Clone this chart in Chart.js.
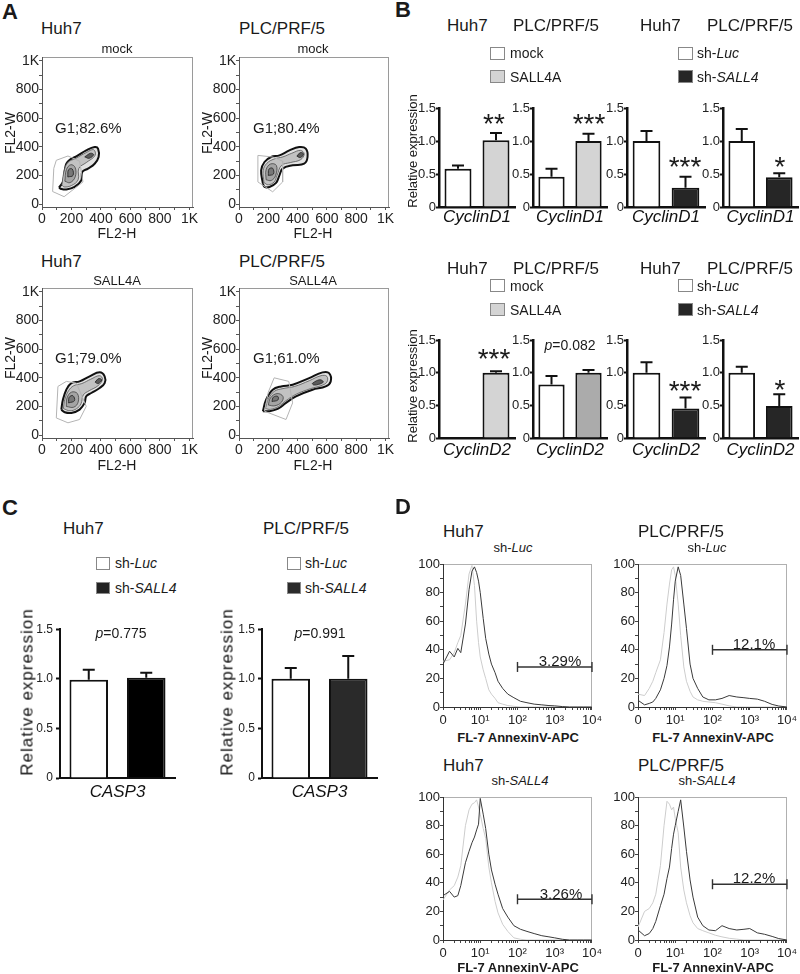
<!DOCTYPE html>
<html><head><meta charset="utf-8">
<script src="https://cdn.jsdelivr.net/npm/chart.js@4/dist/chart.umd.min.js"></script>
<style>
body{margin:0;background:#fff;}
#fig{position:relative;width:800px;height:974px;overflow:hidden;font-family:"Liberation Sans",Arial,Helvetica,sans-serif;color:#1a1a1a;background:#fff;}
.t{position:absolute;white-space:nowrap;line-height:1;}
.sw{position:absolute;box-sizing:border-box;border:1px solid #888;}
canvas{position:absolute;}
</style></head><body><div id="fig"></div>
<script>
// ================= DATA =================
// Panel A: FL2-H (x) vs FL2-W (y) contour outlines, vertices
const a1Gate=[[97,306],[176,336],[255,300],[278,155],[150,52],[72,88],[80,250]];
const a1Outer=[[115,116],[142,155],[154,236],[165,282],[188,310],[233,333],[300,375],[357,398],[380,387],[384,329],[357,282],[312,248],[273,225],[267,167],[221,120],[165,102],[131,106]];
const a1Mid=[[135,135],[150,230],[175,290],[230,320],[300,360],[350,380],[360,340],[300,290],[250,250],[245,170],[200,130],[150,120]];
const a1Inner=[[155,160],[165,240],[195,275],[225,255],[225,190],[190,150]];
const a1Core=[[175,190],[180,240],[205,245],[210,200]];
const a1Top=[[290,330],[330,355],[350,345],[320,320]];

const a2Gate=[[129,340],[230,329],[298,300],[298,155],[230,86],[129,155]];
const a2Outer=[[163,143],[151,236],[174,294],[219,329],[276,340],[344,375],[411,398],[456,387],[468,329],[445,282],[366,271],[298,248],[276,201],[253,148],[208,120],[174,120]];
const a2Mid=[[170,150],[165,235],[190,285],[240,315],[300,330],[360,355],[420,375],[445,350],[420,310],[350,290],[290,270],[260,200],[240,155],[200,135]];
const a2Inner=[[185,170],[185,240],[215,280],[255,270],[250,200],[220,165]];
const a2Core=[[200,200],[205,245],[230,250],[235,210]];
const a2Top=[[395,335],[420,360],[440,350],[420,325]];

const a3Gate=[[108,340],[165,375],[233,363],[300,201],[255,109],[176,86],[97,120]];
const a3Outer=[[131,178],[142,248],[165,317],[199,363],[255,375],[323,410],[391,438],[425,410],[425,363],[391,329],[334,294],[300,271],[289,225],[255,178],[199,155],[154,160]];
const a3Mid=[[145,185],[155,250],[180,310],[215,345],[270,360],[330,390],[390,415],[410,390],[380,345],[320,310],[280,280],[265,220],[235,185],[190,170]];
const a3Inner=[[165,200],[170,260],[200,300],[240,290],[245,230],[215,195]];
const a3Core=[[180,225],[185,265],[210,275],[220,240]];
const a3Top=[[360,370],[385,395],[405,385],[380,360]];

const a4Gate=[[240,400],[340,375],[366,225],[321,109],[174,167],[200,300]];
const a4Outer=[[163,167],[185,248],[230,317],[287,340],[366,352],[479,398],[570,438],[615,433],[626,375],[592,340],[502,317],[389,271],[321,225],[264,183],[208,167]];
const a4Mid=[[180,185],[200,250],[240,305],[300,325],[380,340],[480,380],[560,415],[600,410],[600,370],[560,345],[490,325],[390,285],[320,240],[270,200],[215,180]];
const a4Inner=[[200,210],[215,260],[260,290],[300,270],[290,230],[245,205]];
const a4Core=[[225,235],[235,265],[265,270],[265,245]];
const a4Top=[[500,360],[530,380],[560,385],[575,370],[545,355],[510,350]];

const aTickVals=[0,100,200,300,400,500,600,700,800,900,1000];
const aG1Labels=['G1;82.6%','G1;80.4%','G1;79.0%','G1;61.0%'];

// Panel B: relative expression (bar value, error-bar top)
const bGenes=['CyclinD1','CyclinD2'];
const bOeSeries=['mock','SALL4A'];
const bKdSeries=['sh-Luc','sh-SALL4'];
const bHuh7OeD1=[0.58,1.01], bHuh7OeD1Err=[0.63,1.12];
const bPlcOeD1=[0.46,1.00],  bPlcOeD1Err=[0.58,1.11];
const bHuh7KdD1=[1.00,0.29], bHuh7KdD1Err=[1.15,0.46];
const bPlcKdD1=[1.00,0.45],  bPlcKdD1Err=[1.18,0.51];
const bHuh7OeD2=[0,1.00],    bHuh7OeD2Err=[null,1.02];
const bPlcOeD2=[0.82,1.00],  bPlcOeD2Err=[0.95,1.04];
const bHuh7KdD2=[1.00,0.45], bHuh7KdD2Err=[1.16,0.62];
const bPlcKdD2=[1.00,0.49],  bPlcKdD2Err=[1.09,0.67];
const barYTicks=[0,0.5,1.0,1.5];

// Panel C
const cGene='CASP3';
const cHuh7=[0.99,1.01], cHuh7Err=[1.09,1.06];
const cPlc=[1.00,1.00],  cPlcErr=[1.11,1.23];
const cPvals=['0.775','0.991'];

// Panel D: histograms over FL-7 AnnexinV-APC
const dBins=[1,1.5,2,2.5,3,4,5,6,7,8,9,10,12,14,17,20,25,30,40,55,80,120,180,280,450,700,1000,1600,2500,4000,6000,10000];
const dHuh7LucSample=[30,39,35,41,38,58,82,95,98,94,88,80,62,48,37,30,24,18,13,9,6.5,4,3,2,1.5,1,0.8,0.3,0,0,0,0];
const dHuh7LucControl=[32,33,38,45,50,72,93,99,85,60,45,35,26,20,12,9,6,3,2,1,0.5,0,0,0,0,0,0,0,0,0,0,0];
const dPlcLucSample=[4.7,1.5,2.5,3.5,6,12,20,29,42,58,75,88,98,92,72,55,30,20,13,7,5,5,6,8,7,6.5,6,5.5,4,1.8,0.7,0];
const dPlcLucControl=[9,8,13,18,24,33,52,72,86,96,98,92,72,50,28,18,11,7,5,4,3.5,3,2,0.8,0,0,0,0,0,0,0,0];
const dHuh7SallSample=[31,34,30,31,38,54,62,68,72,77,81,99,88,78,60,49,39,32,22,16,10,7.5,6,4.5,3,2.2,1.5,0.5,0,0,0,0];
const dHuh7SallControl=[28,35,38,44,52,80,91,95,96,98,93,88,78,71,51,40,27,19,11,6,1.5,0.5,0,0,0,0,0,0,0,0,0,0];
const dPlcSallSample=[7,3,4.5,8,13,24,32,43,51,64,74,80,90,98,79,62,42,30,16,10,7,6.5,10,8,7,7.5,8,5,4,2.5,1,0];
const dPlcSallControl=[9,20,22,26,32,52,80,97,95,91,93,85,75,51,35,26,17,12,8,6.5,5,3.3,2.2,1.2,0.6,0,0,0,0,0,0,0];
const dGateRange=[100,10000];
const dGateLevels=[28,40,28.5,39];
const dGatePct=['3.29%','12.1%','3.26%','12.2%'];
const dDecades=[1,10,100,1000,10000];
const dYTicks=[0,10,20,30,40,50,60,70,80,90,100];

// ================= HELPERS =================
const FONT='"Liberation Sans", Arial, Helvetica, sans-serif';
Chart.defaults.font.family=FONT;
Chart.defaults.color='#1a1a1a';
Chart.defaults.animation=false;
Chart.defaults.plugins.legend.display=false;
Chart.defaults.plugins.tooltip.enabled=false;
const fig=document.getElementById('fig');

function T(html,x,y,size,o){
  o=o||{};
  const d=document.createElement('div');d.className='t';d.innerHTML=html;
  d.style.fontSize=size+'px';d.style.left=x+'px';d.style.top=y+'px';
  if(o.b)d.style.fontWeight='bold';
  if(o.ls)d.style.letterSpacing=o.ls+'px';
  if(o.color)d.style.color=o.color;
  let tr=o.a==='l'?'translate(0,-50%)':(o.a==='r'?'translate(-100%,-50%)':'translate(-50%,-50%)');
  if(o.rot)tr+=' rotate(-90deg)';
  d.style.transform=tr;fig.appendChild(d);return d;
}
function SW(x,y,w,h,bg){const d=document.createElement('div');d.className='sw';
  d.style.left=x+'px';d.style.top=y+'px';d.style.width=w+'px';d.style.height=h+'px';d.style.background=bg;fig.appendChild(d);}

function mk(area,yw,xh,padR,padT,cfg){
  const c=document.createElement('canvas');
  const W=Math.round(area.r-area.l+yw+padR),H=Math.round(area.b-area.t+padT+xh);
  c.width=W;c.height=H;c.style.left=(area.l-yw)+'px';c.style.top=(area.t-padT)+'px';
  c.style.width=W+'px';c.style.height=H+'px';fig.appendChild(c);
  const o=cfg.options;o.responsive=false;o.maintainAspectRatio=false;o.animation=false;
  o.layout={padding:{left:0,right:padR,top:padT,bottom:0}};
  o.scales.x.afterFit=s=>{s.height=xh;};
  o.scales.y.afterFit=s=>{s.width=yw;};
  return new Chart(c,cfg);
}

const errPlugin={id:'errbars',afterDatasetsDraw(chart,args,opts){
  const ctx=chart.ctx,ys=chart.scales.y;
  chart.data.datasets.forEach((ds,i)=>{
    if(!ds.err)return;
    chart.getDatasetMeta(i).data.forEach((bar,j)=>{
      const v=ds.err[j];if(v==null)return;
      const yt=ys.getPixelForValue(v);
      ctx.save();ctx.strokeStyle='#111';ctx.lineWidth=opts.lw||2;ctx.beginPath();
      ctx.moveTo(bar.x,bar.y);ctx.lineTo(bar.x,yt);
      ctx.moveTo(bar.x-opts.cap/2,yt);ctx.lineTo(bar.x+opts.cap/2,yt);ctx.stroke();ctx.restore();
    });
  });
}};
const framePlugin={id:'frame',beforeDraw(chart,args,opts){
  const a=chart.chartArea,ctx=chart.ctx;ctx.save();ctx.strokeStyle=opts.color||'#aaa';ctx.lineWidth=1;
  ctx.strokeRect(Math.round(a.left)+0.5,Math.round(a.top)+0.5,Math.round(a.right-a.left)-1,Math.round(a.bottom-a.top));ctx.restore();
}};

function barChart(area,o){
  return mk(area,o.yw,o.xh,o.padR,8,{
    type:'bar',
    data:{labels:[o.label],datasets:o.values.map((v,i)=>({label:o.series[i],data:[v],err:[o.errs[i]],
      backgroundColor:o.colors[i],borderColor:'#111',borderWidth:o.bw,categoryPercentage:1,barPercentage:o.bp}))},
    options:{scales:{
      x:{grid:{display:false,drawTicks:false,tickLength:0},border:{display:true,width:o.aw,color:'#111'},
         ticks:{font:{size:o.xf,style:'italic'},padding:o.xpad,color:'#111',maxRotation:0}},
      y:{min:0,max:1.5,afterBuildTicks:s=>{s.ticks=barYTicks.map(v=>({value:v}));},
         ticks:{font:{size:o.yf},padding:o.ypad,color:'#222',callback:v=>v===0?'0':v.toFixed(1)},
         grid:{display:true,drawOnChartArea:false,drawTicks:true,tickLength:o.tl,tickWidth:2,tickColor:'#111'},
         border:{width:o.aw,color:'#111'}}},
      plugins:{errbars:{cap:o.cap,lw:2}}},
    plugins:[errPlugin]
  });
}

function poly(pts){return pts.concat([pts[0]]).map(p=>({x:p[0],y:p[1]}));}
function contourChart(area,gate,top,core,inner,mid,outer){
  const base={type:'scatter',showLine:true,pointRadius:0};
  const ds=[
    Object.assign({},base,{data:poly(gate),borderColor:'#b4b4b4',borderWidth:1,fill:false,tension:0}),
    Object.assign({},base,{data:poly(top),borderColor:'#333',borderWidth:1,backgroundColor:'#5a5a5a',fill:'shape',tension:0.4}),
    Object.assign({},base,{data:poly(core),borderColor:'#333',borderWidth:1,backgroundColor:'#777',fill:'shape',tension:0.4}),
    Object.assign({},base,{data:poly(inner),borderColor:'#444',borderWidth:0.8,backgroundColor:'#a4a4a4',fill:'shape',tension:0.4}),
    Object.assign({},base,{data:poly(mid),borderColor:'#555',borderWidth:0.8,backgroundColor:'#c2c2c2',fill:'shape',tension:0.4}),
    Object.assign({},base,{data:poly(outer),borderColor:'#111',borderWidth:2,backgroundColor:'#e2e2e2',fill:'shape',tension:0.4})
  ];
  const axisCommon={grid:{display:true,drawOnChartArea:false,drawTicks:true,tickLength:3,tickColor:'#555',tickWidth:1},
    border:{display:true,color:'#555',width:1}};
  const lab=v=>v%200===0?(v===1000?'1K':String(v)):'';
  return mk(area,30,22,10,8,{type:'scatter',data:{datasets:ds},
    options:{scales:{
      x:Object.assign({type:'linear',min:0,max:1024,afterBuildTicks:s=>{s.ticks=aTickVals.map(v=>({value:v}));},
        ticks:{font:{size:14},padding:1,color:'#222',autoSkip:false,maxRotation:0,callback:lab}},axisCommon),
      y:Object.assign({type:'linear',min:-20,max:1024,afterBuildTicks:s=>{s.ticks=aTickVals.map(v=>({value:v}));},
        ticks:{font:{size:14},padding:0,color:'#222',autoSkip:false,callback:lab}},axisCommon)},
      plugins:{frame:{color:'#9a9a9a'}}},
    plugins:[framePlugin]});
}

const supers={1:'',10:'10\u00b9',100:'10\u00b2',1000:'10\u00b3',10000:'10\u2074'};
function histChart(area,sample,control,level){
  const minor=[];dDecades.forEach((d,i)=>{if(i<dDecades.length-1){for(let k=1;k<10;k++)minor.push(d*k);}else minor.push(d);});
  const pts=ys=>dBins.map((x,i)=>({x:x,y:ys[i]}));
  const ds=[
    {type:'scatter',showLine:true,data:[{x:dGateRange[0],y:level},{x:dGateRange[1],y:level}],borderColor:'#333',borderWidth:1.4,
      pointStyle:'line',pointRotation:90,pointRadius:5,pointBorderWidth:1.4,pointBorderColor:'#333',clip:false},
    {type:'scatter',showLine:true,data:pts(sample),borderColor:'#3a3a3a',borderWidth:1,pointRadius:0,tension:0},
    {type:'scatter',showLine:true,data:pts(control),borderColor:'#cdcdcd',borderWidth:1,pointRadius:0,tension:0}
  ];
  const axisCommon={grid:{display:true,drawOnChartArea:false,drawTicks:true,tickLength:3,tickColor:'#444',tickWidth:1},
    border:{display:true,color:'#333',width:1}};
  return mk(area,32,22,12,8,{type:'scatter',data:{datasets:ds},
    options:{scales:{
      x:Object.assign({type:'logarithmic',min:1,max:10000,afterBuildTicks:s=>{s.ticks=minor.map(v=>({value:v}));},
        ticks:{font:{size:13},padding:3,color:'#222',autoSkip:false,maxRotation:0,minRotation:0,
          callback:v=>v===1?'0':(supers[v]!==undefined?supers[v]:'')}},axisCommon),
      y:Object.assign({type:'linear',min:0,max:100,afterBuildTicks:s=>{s.ticks=dYTicks.map(v=>({value:v}));},
        ticks:{font:{size:13},padding:0,color:'#222',autoSkip:false,callback:v=>v%20===0?String(v):''}},axisCommon)},
      plugins:{frame:{color:'#b0b0b0'}}},
    plugins:[framePlugin]});
}

// ================= PANEL A =================
contourChart({l:42,r:193,t:57,b:207},a1Gate,a1Top,a1Core,a1Inner,a1Mid,a1Outer);
contourChart({l:239,r:389,t:57,b:207},a2Gate,a2Top,a2Core,a2Inner,a2Mid,a2Outer);
contourChart({l:42,r:193,t:288,b:438},a3Gate,a3Top,a3Core,a3Inner,a3Mid,a3Outer);
contourChart({l:239,r:389,t:288,b:438},a4Gate,a4Top,a4Core,a4Inner,a4Mid,a4Outer);

// ================= PANEL B =================
const bRows=[{t:108,b:207,gene:bGenes[0],xpad:0,
  sets:[[bHuh7OeD1,bHuh7OeD1Err],[bPlcOeD1,bPlcOeD1Err],[bHuh7KdD1,bHuh7KdD1Err],[bPlcKdD1,bPlcKdD1Err]],
  oeColors:['#ffffff','#d4d4d4']},
 {t:340,b:438,gene:bGenes[1],xpad:2,
  sets:[[bHuh7OeD2,bHuh7OeD2Err],[bPlcOeD2,bPlcOeD2Err],[bHuh7KdD2,bHuh7KdD2Err],[bPlcKdD2,bPlcKdD2Err]],
  oeColors:['#ffffff','#d4d4d4'],oe2Colors:['#ffffff','#ababab']}];
const bCols=[{l:439,r:515,yw:24},{l:533,r:607,yw:22},{l:627,r:705,yw:22},{l:723,r:798,yw:22}];
bRows.forEach((row,ri)=>{
  bCols.forEach((col,ci)=>{
    const oe=ci<2;
    let colors=oe?row.oeColors:['#ffffff','#262626'];
    if(ri===1&&ci===1)colors=row.oe2Colors;
    barChart({l:col.l,r:col.r,t:row.t,b:row.b},{yw:col.yw,xh:26,padR:2,label:row.gene,
      series:oe?bOeSeries:bKdSeries,values:row.sets[ci][0],errs:row.sets[ci][1],colors:colors,
      bw:2,bp:0.71,aw:2.5,xf:17,xpad:row.xpad,yf:13,ypad:0,tl:3,cap:12});
  });
});

// ================= PANEL C =================
barChart({l:60,r:175,t:627,b:778},{yw:30,xh:28,padR:4,label:cGene,series:bKdSeries,values:cHuh7,errs:cHuh7Err,
  colors:['#ffffff','#000000'],bw:2,bp:0.67,aw:2,xf:17,xpad:4,yf:12,ypad:3,tl:4,cap:12});
barChart({l:262,r:377,t:627,b:778},{yw:30,xh:28,padR:4,label:cGene,series:bKdSeries,values:cPlc,errs:cPlcErr,
  colors:['#ffffff','#2a2a2a'],bw:2,bp:0.67,aw:2,xf:17,xpad:4,yf:12,ypad:3,tl:4,cap:12});

// ================= PANEL D =================
histChart({l:443,r:593,t:564,b:707},dHuh7LucSample,dHuh7LucControl,dGateLevels[0]);
histChart({l:638,r:788,t:564,b:707},dPlcLucSample,dPlcLucControl,dGateLevels[1]);
histChart({l:443,r:593,t:797,b:940},dHuh7SallSample,dHuh7SallControl,dGateLevels[2]);
histChart({l:638,r:788,t:797,b:940},dPlcSallSample,dPlcSallControl,dGateLevels[3]);

// ================= TEXT =================
function star(s,x,y){T(s,x,y+6,28);}
// A
T('A',2,12,22,{a:'l',b:1});
T('Huh7',41,28,17,{a:'l'});T('PLC/PRF/5',239,28,17,{a:'l'});
T('Huh7',41,261,17,{a:'l'});T('PLC/PRF/5',239,261,17,{a:'l'});
T('mock',117,48,13);T('mock',313,48,13);T('SALL4A',117,280,13);T('SALL4A',313,280,13);
T(aG1Labels[0],55,127,15,{a:'l'});T(aG1Labels[1],253,127,15,{a:'l'});
T(aG1Labels[2],55,357,15,{a:'l'});T(aG1Labels[3],253,357,15,{a:'l'});
[[117,233],[313,233],[117,465],[313,465]].forEach(p=>T('FL2-H',p[0],p[1],14));
[[10,133],[207,133],[10,358],[207,358]].forEach(p=>T('FL2-W',p[0],p[1],14,{rot:1}));
// B
T('B',395,10,22,{a:'l',b:1});
[[25,47,53,70,77],[268,279,286,303,310]].forEach(r=>{
  T('Huh7',447,r[0],17,{a:'l'});T('PLC/PRF/5',513,r[0],17,{a:'l'});
  T('Huh7',640,r[0],17,{a:'l'});T('PLC/PRF/5',707,r[0],17,{a:'l'});
  SW(490,r[1],15,13,'#fff');T(bOeSeries[0],510,r[2],14,{a:'l'});
  SW(490,r[3],15,13,'#d4d4d4');T(bOeSeries[1],510,r[4],14,{a:'l'});
  SW(678,r[1],15,13,'#fff');T('sh-<i>Luc</i>',697,r[2],14,{a:'l'});
  SW(678,r[3],15,13,'#262626');T('sh-<i>SALL4</i>',697,r[4],14,{a:'l'});
});
T('Relative expression',412,151,13,{rot:1});T('Relative expression',412,386,13,{rot:1});
star('**',494,118);star('***',589,118);star('***',685,161);star('*',780,161);
star('***',494,353);T('<i>p</i>=0.082',570,345,14);star('***',685,385);star('*',780,384);
// C
T('C',2,508,22,{a:'l',b:1});
T('Huh7',63,528,17,{a:'l'});T('PLC/PRF/5',263,528,17,{a:'l'});
SW(96,557,14,13,'#fff');T('sh-<i>Luc</i>',115,563,14,{a:'l'});
SW(96,582,14,12,'#222');T('sh-<i>SALL4</i>',115,588,14,{a:'l'});
SW(287,557,14,13,'#fff');T('sh-<i>Luc</i>',305,563,14,{a:'l'});
SW(287,582,14,12,'#2b2b2b');T('sh-<i>SALL4</i>',305,588,14,{a:'l'});
T('<i>p</i>='+cPvals[0],121,633,14);T('<i>p</i>='+cPvals[1],320,633,14);
T('Relative expression',27,692,17,{rot:1,ls:1,color:'#111'});T('Relative expression',227,692,17,{rot:1,ls:1,color:'#111'});
// D
T('D',395,507,22,{a:'l',b:1});
T('Huh7',443,531,17,{a:'l'});T('PLC/PRF/5',638,531,17,{a:'l'});
T('Huh7',443,765,17,{a:'l'});T('PLC/PRF/5',638,765,17,{a:'l'});
T('sh-<i>Luc</i>',513,547,13);T('sh-<i>Luc</i>',707,547,13);
T('sh-<i>SALL4</i>',520,780,13);T('sh-<i>SALL4</i>',707,780,13);
[[518,737],[713,737],[518,967],[713,967]].forEach(p=>T('FL-7 AnnexinV-APC',p[0],p[1],13,{b:1}));
T(dGatePct[0],560,660,15);T(dGatePct[1],754,643,15);T(dGatePct[2],561,893,15);T(dGatePct[3],754,877,15);
</script></body></html>
